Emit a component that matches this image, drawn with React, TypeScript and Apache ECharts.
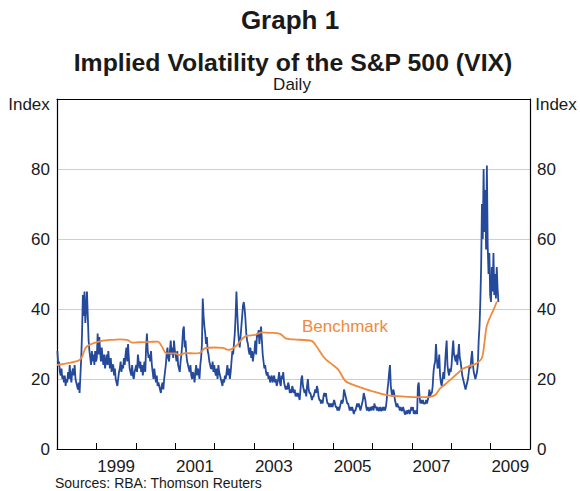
import React, { useEffect, useRef } from "react";
import * as echarts from "echarts";

const yearLabels = ["1998", "1999", "2000", "2001", "2002", "2003", "2004", "2005", "2006", "2007", "2008", "2009"];
const yTicks = [0, 20, 40, 60, 80];

// VIX, four readings per month
const vix1998 = [28, 24, 25, 22, 21, 23, 20, 21, 19, 21, 18, 20, 19, 22, 20, 24, 21, 19, 22, 23, 21, 24, 20, 19, 18, 17, 19, 16, 21, 26, 33, 44, 38, 45, 36, 40, 45, 38, 31, 28, 26, 24, 28, 25, 27, 24, 28, 25];
const vix1999 = [26, 33, 27, 32, 28, 25, 29, 26, 24, 27, 23, 25, 27, 24, 28, 25, 23, 26, 22, 24, 24, 21, 23, 20, 19, 18, 20, 22, 23, 25, 22, 24, 23, 26, 24, 27, 29, 25, 30, 26, 23, 22, 21, 24, 21, 20, 22, 23];
const vix2000 = [24, 22, 27, 25, 23, 25, 22, 24, 21, 23, 25, 22, 29, 33, 28, 26, 27, 25, 28, 24, 22, 20, 23, 21, 19, 21, 18, 19, 18, 17, 16, 18, 19, 17, 20, 22, 24, 27, 29, 26, 25, 28, 31, 27, 29, 26, 31, 28];
const vix2001 = [27, 25, 28, 24, 23, 22, 25, 27, 30, 34, 35, 29, 31, 27, 25, 24, 23, 22, 24, 21, 20, 22, 21, 19, 22, 24, 21, 23, 22, 20, 24, 26, 30, 43, 38, 35, 33, 30, 32, 28, 27, 25, 24, 23, 23, 25, 22, 24];
const vix2002 = [22, 21, 23, 20, 24, 22, 21, 20, 19, 18, 20, 19, 21, 20, 22, 24, 21, 23, 20, 22, 25, 28, 27, 30, 33, 38, 45, 39, 34, 31, 29, 32, 35, 38, 41, 42, 40, 37, 33, 31, 30, 28, 27, 29, 26, 28, 25, 27];
const vix2003 = [28, 31, 27, 33, 32, 34, 30, 33, 35, 31, 27, 25, 23, 24, 22, 21, 22, 20, 21, 19, 20, 21, 19, 20, 21, 19, 20, 18, 19, 20, 22, 19, 18, 21, 20, 22, 19, 18, 17, 18, 17, 19, 18, 16, 17, 16, 18, 17];
const vix2004 = [16, 17, 15, 16, 15, 16, 15, 14, 17, 20, 21, 18, 17, 16, 17, 15, 18, 20, 17, 16, 16, 15, 14, 15, 15, 16, 17, 16, 18, 17, 15, 14, 14, 13, 14, 13, 15, 16, 15, 16, 14, 13, 13, 12, 13, 12, 13, 12];
const vix2005 = [13, 14, 13, 12, 12, 11, 12, 11, 12, 13, 14, 13, 14, 17, 16, 15, 14, 13, 13, 12, 11, 12, 11, 12, 11, 10, 11, 11, 12, 13, 12, 13, 12, 11, 12, 13, 14, 16, 15, 14, 12, 11, 12, 11, 11, 12, 11, 12];
const vix2006 = [12, 11, 13, 12, 12, 11, 12, 11, 11, 12, 11, 11, 12, 11, 12, 11, 12, 14, 17, 19, 22, 24, 18, 16, 15, 17, 16, 14, 13, 12, 13, 12, 12, 11, 12, 11, 11, 12, 11, 10, 10, 11, 10, 11, 11, 10, 11, 12];
const vix2007 = [11, 12, 10, 11, 10, 11, 10, 18, 19, 15, 13, 14, 13, 14, 13, 13, 13, 14, 13, 14, 15, 17, 15, 16, 16, 18, 22, 24, 25, 30, 26, 23, 24, 27, 21, 19, 18, 20, 22, 20, 24, 28, 31, 24, 22, 21, 23, 22];
const vix2008 = [24, 28, 31, 27, 26, 25, 27, 24, 27, 30, 26, 25, 23, 21, 20, 19, 18, 17, 18, 19, 20, 22, 24, 23, 26, 28, 24, 22, 21, 20, 21, 22, 24, 31, 35, 42, 52, 70, 60, 80, 62, 74, 57, 81, 58, 50, 56, 44];
const vix2009 = [42, 52, 45, 56, 44, 50, 43, 52, 46, 42];

// Benchmark
const benchmarkDates = [1998.0, 1998.3, 1998.53, 1998.62, 1998.72, 1998.8, 1998.95, 1999.13, 1999.4, 1999.6, 1999.8, 1999.9, 2000.1, 2000.35, 2000.56, 2000.65, 2000.78, 2001.0, 2001.1, 2001.25, 2001.5, 2001.63, 2001.76, 2002.0, 2002.2, 2002.35, 2002.55, 2002.7, 2002.81, 2003.03, 2003.2, 2003.4, 2003.66, 2003.8, 2004.0, 2004.46, 2004.59, 2004.75, 2004.84, 2005.0, 2005.14, 2005.31, 2005.5, 2005.78, 2006.0, 2006.37, 2006.62, 2006.9, 2007.13, 2007.47, 2007.6, 2007.72, 2007.85, 2007.97, 2008.15, 2008.31, 2008.5, 2008.65, 2008.78, 2008.84, 2008.9, 2009.0, 2009.07, 2009.16];
const benchmarkValues = [24.0, 24.6, 25.2, 26.0, 28.8, 29.6, 30.3, 30.9, 31.2, 31.3, 31.1, 30.4, 30.5, 30.6, 30.7, 29.5, 27.3, 27.3, 26.8, 27.4, 27.3, 27.5, 28.8, 29.0, 28.9, 28.3, 29.5, 31.5, 32.3, 32.6, 33.3, 33.2, 32.9, 31.6, 31.3, 30.9, 29.2, 26.5, 25.4, 24.0, 22.6, 19.5, 18.4, 17.3, 16.5, 15.4, 15.1, 14.9, 14.8, 14.9, 15.5, 17.3, 18.5, 19.7, 21.5, 23.0, 23.8, 24.5, 26.0, 30.0, 35.0, 38.0, 39.7, 42.1];

const FONT = "'Liberation Sans', Arial, Helvetica, sans-serif";
const TXT = "#1a1a1a";
const BLUE = "#25499b";
const ORANGE = "#f08a3c";

export default function App() {
  const ref = useRef<HTMLDivElement>(null);
  useEffect(() => {
    document.body.style.margin = "0";
    const chart = echarts.init(ref.current!, null, { renderer: "svg" });
    const vixYears = [vix1998, vix1999, vix2000, vix2001, vix2002, vix2003, vix2004, vix2005, vix2006, vix2007, vix2008, vix2009];
    const vixData: number[][] = [];
    vixYears.forEach((arr, k) => {
      arr.forEach((v, i) => vixData.push([Number(yearLabels[k]) + (i + 0.5) / 48, v]));
    });
    const benchData = benchmarkDates.map((d, i) => [d, benchmarkValues[i]]);
    const yLabel = (v: number) => (yTicks.indexOf(v) >= 0 ? String(v) : "");
    const text = (x: number, y: number, t: string, size: number, opts: any = {}) => ({
      type: "text",
      x,
      y,
      silent: true,
      style: {
        text: t,
        fill: opts.fill || TXT,
        font: `${opts.bold ? "bold " : ""}${size}px ${FONT}`,
        textAlign: opts.align || "center",
        textVerticalAlign: "middle",
      },
    });
    chart.setOption({
      animation: false,
      textStyle: { fontFamily: FONT },
      grid: { left: 57, right: 50, top: 99, bottom: 42, containLabel: false },
      xAxis: [
        {
          type: "value",
          min: 1998,
          max: 2010,
          interval: 1,
          position: "bottom",
          axisLine: { show: true, onZero: false, lineStyle: { color: "#000", width: 1.2 } },
          axisTick: { show: true, inside: true, length: 6, lineStyle: { color: "#000", width: 1 } },
          axisLabel: { show: false },
          splitLine: { show: false },
        },
        {
          type: "category",
          data: yearLabels,
          position: "bottom",
          boundaryGap: true,
          axisLine: { show: false },
          axisTick: { show: false },
          axisLabel: {
            interval: (i: number) => i % 2 === 1,
            fontSize: 17,
            color: TXT,
            margin: 9,
            fontFamily: FONT,
          },
          splitLine: { show: false },
        },
        {
          type: "value",
          min: 1998,
          max: 2010,
          position: "top",
          axisLine: { show: true, onZero: false, lineStyle: { color: "#000", width: 1.2 } },
          axisTick: { show: false },
          axisLabel: { show: false },
          splitLine: { show: false },
        },
      ],
      yAxis: [
        {
          type: "value",
          min: 0,
          max: 100,
          interval: 20,
          position: "left",
          axisLine: { show: true, lineStyle: { color: "#000", width: 1.2 } },
          axisTick: { show: false },
          axisLabel: { formatter: yLabel, fontSize: 17, color: TXT, margin: 7, fontFamily: FONT },
          splitLine: { show: true, lineStyle: { color: "#cfcfcf", width: 1.2 } },
        },
        {
          type: "value",
          min: 0,
          max: 100,
          interval: 20,
          position: "right",
          axisLine: { show: true, lineStyle: { color: "#000", width: 1.2 } },
          axisTick: { show: false },
          axisLabel: { formatter: yLabel, fontSize: 17, color: TXT, margin: 7, fontFamily: FONT },
          splitLine: { show: false },
        },
      ],
      series: [
        {
          name: "VIX",
          type: "line",
          xAxisIndex: 0,
          yAxisIndex: 0,
          data: vixData,
          showSymbol: false,
          lineStyle: { color: BLUE, width: 1.8 },
          itemStyle: { color: BLUE },
        },
        {
          name: "Benchmark",
          type: "line",
          xAxisIndex: 0,
          yAxisIndex: 0,
          data: benchData,
          showSymbol: false,
          smooth: 0.3,
          lineStyle: { color: ORANGE, width: 1.8 },
          itemStyle: { color: ORANGE },
        },
      ],
      graphic: [
        text(290, 20, "Graph 1", 26, { bold: true }),
        text(293, 62, "Implied Volatility of the S&P 500 (VIX)", 24.8, { bold: true }),
        text(292, 84, "Daily", 17),
        text(29, 104, "Index", 17),
        text(556, 104, "Index", 17),
        text(302, 326, "Benchmark", 17, { fill: ORANGE, align: "left" }),
        text(55, 483, "Sources: RBA: Thomson Reuters", 14, { align: "left" }),
      ],
    });
    return () => chart.dispose();
  }, []);
  return <div ref={ref} style={{ width: 580, height: 491 }} />;
}
